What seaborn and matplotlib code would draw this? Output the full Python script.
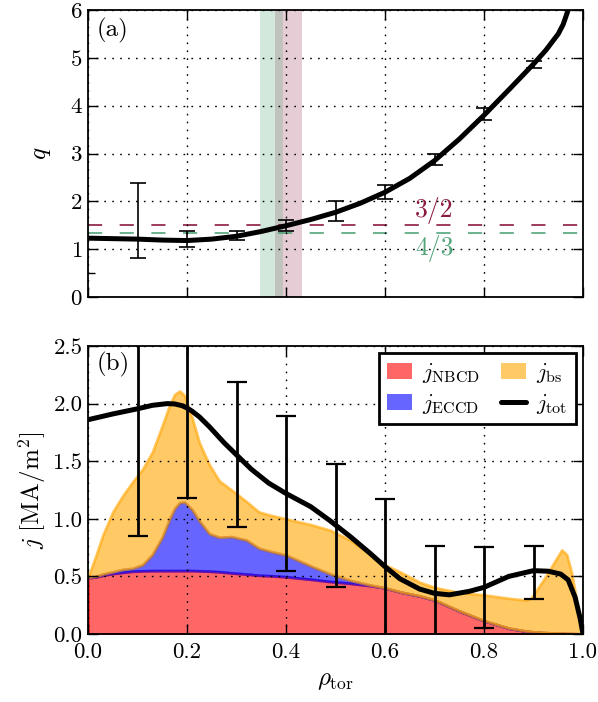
import numpy as np
import pandas as pd
import matplotlib
matplotlib.use("Agg")
import matplotlib.pyplot as plt
from matplotlib.patches import Patch
from matplotlib.lines import Line2D
import seaborn as sns

# ---------------- data: panel (a) safety factor ----------------
rho_q = [0.0, 0.05, 0.1, 0.15, 0.2, 0.25, 0.3, 0.35, 0.4, 0.45, 0.5, 0.55,
         0.6, 0.65, 0.7, 0.75, 0.8, 0.85, 0.9, 0.925, 0.95, 0.96, 0.97, 0.98]
q_prof = [1.23, 1.22, 1.21, 1.19, 1.18, 1.21, 1.27, 1.37, 1.49, 1.62, 1.77, 1.96,
          2.19, 2.48, 2.85, 3.30, 3.80, 4.33, 4.87, 5.16, 5.50, 5.70, 6.00, 6.45]
rho_err = [0.1, 0.2, 0.3, 0.4, 0.5, 0.6, 0.7, 0.8, 0.9]
q_lo = [0.81, 1.05, 1.19, 1.38, 1.59, 2.04, 2.76, 3.71, 4.79]
q_hi = [2.39, 1.37, 1.39, 1.62, 2.00, 2.35, 2.98, 3.95, 4.93]
q_rational = [1.5, 4 / 3]
q_rational_labels = ["3/2", "4/3"]
span_32 = [0.378, 0.433]
span_43 = [0.347, 0.394]

# ---------------- data: panel (b) current densities ----------------
rho_j = [0.0, 0.005, 0.015, 0.03, 0.05, 0.07, 0.09, 0.11, 0.13, 0.15, 0.165, 0.175,
         0.185, 0.195, 0.21, 0.225, 0.245, 0.265, 0.29, 0.32, 0.345, 0.37, 0.4,
         0.45, 0.49, 0.53, 0.57, 0.6, 0.63, 0.67, 0.7, 0.75, 0.8, 0.85, 0.885,
         0.895, 0.92, 0.957, 0.967, 0.977, 0.987, 0.994, 1.0]
j_nbcd = [0.49, 0.49, 0.495, 0.51, 0.525, 0.535, 0.545, 0.548, 0.55, 0.55, 0.55, 0.55,
          0.55, 0.55, 0.55, 0.548, 0.545, 0.54, 0.53, 0.52, 0.51, 0.505, 0.497,
          0.475, 0.455, 0.44, 0.42, 0.40, 0.365, 0.33, 0.295, 0.20, 0.115, 0.05, 0.025,
          0.02, 0.012, 0.006, 0.004, 0.003, 0.002, 0.001, 0.0]
j_eccd = [0.0, 0.005, 0.005, 0.01, 0.015, 0.025, 0.025, 0.052, 0.14, 0.29, 0.45, 0.54,
          0.59, 0.595, 0.53, 0.432, 0.325, 0.30, 0.315, 0.295, 0.235, 0.21, 0.188,
          0.115, 0.065, 0.025, 0.005, 0.0, 0.0, 0.0, 0.0, 0.0, 0.0, 0.0, 0.0,
          0.0, 0.0, 0.0, 0.0, 0.0, 0.0, 0.0, 0.0]
j_bs = [0.01, 0.055, 0.17, 0.34, 0.52, 0.64, 0.75, 0.83, 0.89, 0.97, 0.99, 0.99,
        0.97, 0.925, 0.80, 0.68, 0.60, 0.49, 0.405, 0.335, 0.315, 0.315, 0.315,
        0.36, 0.38, 0.35, 0.265, 0.20, 0.175, 0.12, 0.11, 0.16, 0.225, 0.26, 0.27,
        0.29, 0.458, 0.724, 0.686, 0.527, 0.293, 0.099, 0.0]
rho_tot = [0.0, 0.05, 0.1, 0.13, 0.16, 0.175, 0.19, 0.2, 0.21, 0.225, 0.245, 0.275,
           0.3, 0.33, 0.365, 0.4, 0.45, 0.49, 0.53, 0.57, 0.6, 0.63, 0.67, 0.7,
           0.73, 0.77, 0.8, 0.85, 0.9, 0.93, 0.955, 0.97, 0.984, 0.994, 1.0]
j_tot = [1.86, 1.91, 1.955, 1.985, 2.0, 1.997, 1.982, 1.962, 1.935, 1.885, 1.80, 1.66,
         1.555, 1.43, 1.31, 1.22, 1.105, 0.98, 0.845, 0.70, 0.585, 0.48, 0.39, 0.353,
         0.34, 0.37, 0.405, 0.50, 0.55, 0.545, 0.52, 0.47, 0.32, 0.14, 0.0]
j_lo = [0.85, 1.18, 0.93, 0.55, 0.405, -0.05, -0.06, 0.05, 0.30]
j_hi = [3.00, 2.75, 2.19, 1.89, 1.48, 1.17, 0.765, 0.755, 0.76]
legend_labels = [r"$j_{\mathrm{NBCD}}$", r"$j_{\mathrm{ECCD}}$",
                 r"$j_{\mathrm{bs}}$", r"$j_{\mathrm{tot}}$"]

# ---------------- style ----------------
sns.set_theme(style="ticks")
plt.rcParams.update({
    "font.family": ["cmr10"],
    "mathtext.fontset": "cm",
    "axes.formatter.use_mathtext": True,
    "font.size": 16.5,
    "axes.labelsize": 18,
    "xtick.labelsize": 16.5,
    "ytick.labelsize": 16.5,
    "legend.fontsize": 16.5,
    "xtick.direction": "in",
    "ytick.direction": "in",
    "xtick.top": True,
    "ytick.right": True,
    "xtick.major.size": 7,
    "ytick.major.size": 7,
    "xtick.major.width": 1.0,
    "ytick.major.width": 1.0,
    "xtick.major.pad": 6,
    "ytick.major.pad": 4,
    "xtick.color": "black",
    "ytick.color": "black",
    "axes.edgecolor": "black",
    "axes.linewidth": 1.3,
    "axes.axisbelow": False,
    "text.color": "black",
    "axes.labelcolor": "black",
})

c32 = "#8b1a40"
c43 = "#52a57a"
grid_ls = (0, (1.2, 4.5))

fig = plt.figure(figsize=(5.98, 7.02), dpi=100)
ax1 = fig.add_axes([88 / 598, 1 - 297 / 702, 495 / 598, 287 / 702])
ax2 = fig.add_axes([88 / 598, 1 - 634 / 702, 495 / 598, 288 / 702])

# ---------------- panel (a) ----------------
ax1.axvspan(span_32[0], span_32[1], color=c32, alpha=0.22, lw=0)
ax1.axvspan(span_43[0], span_43[1], color=c43, alpha=0.25, lw=0)
for qv, col in zip(q_rational, [c32, c43]):
    ax1.axhline(qv, color=col, lw=1.2, ls=(0, (8.5, 10.5)))
ax1.text(0.70, 1.80, q_rational_labels[0], color=c32, ha="center", va="center", fontsize=18.5)
ax1.text(0.70, 1.02, q_rational_labels[1], color=c43, ha="center", va="center", fontsize=18.5)

q_lo_a = np.array(q_lo); q_hi_a = np.array(q_hi)
q_mid = (q_lo_a + q_hi_a) / 2
ax1.errorbar(rho_err, q_mid, yerr=[q_mid - q_lo_a, q_hi_a - q_mid], fmt="none",
             ecolor="black", elinewidth=1.2, capsize=5.8, capthick=1.2, zorder=3)
dfq = pd.DataFrame({"rho": rho_q, "q": q_prof})
sns.lineplot(data=dfq, x="rho", y="q", ax=ax1, color="black", lw=3.6,
             sort=False, estimator=None, legend=False, zorder=4)

ax1.set_xlim(0, 1)
ax1.set_ylim(0, 6)
ax1.set_xticks([0, 0.2, 0.4, 0.6, 0.8, 1.0])
ax1.set_yticks([0, 1, 2, 3, 4, 5, 6])
ax1.set_yticks([0.5], minor=True)
ax1.tick_params(axis="y", which="minor", left=True, right=False, length=5, width=1.0)
ax1.tick_params(axis="x", labelbottom=False)
ax1.grid(True, color="black", ls=grid_ls, lw=1.0)
ax1.set_xlabel("")
ax1.set_ylabel(r"$q$", labelpad=12)
ax1.text(0.018, 0.972, "(a)", transform=ax1.transAxes, ha="left", va="top", fontsize=18)

# ---------------- panel (b) ----------------
nb = np.array(j_nbcd); ec = np.array(j_eccd); bs = np.array(j_bs)
ax2.fill_between(rho_j, 0, nb, color="red", alpha=0.6, lw=2.0)
ax2.fill_between(rho_j, nb, nb + ec, color="blue", alpha=0.6, lw=2.0)
ax2.fill_between(rho_j, nb + ec, nb + ec + bs, color="orange", alpha=0.6, lw=2.0)

j_lo_a = np.array(j_lo); j_hi_a = np.array(j_hi)
j_mid = (j_lo_a + j_hi_a) / 2
ax2.errorbar(rho_err, j_mid, yerr=[j_mid - j_lo_a, j_hi_a - j_mid], fmt="none",
             ecolor="black", elinewidth=2.0, capsize=7, capthick=1.6, zorder=3)
dfj = pd.DataFrame({"rho": rho_tot, "j": j_tot})
sns.lineplot(data=dfj, x="rho", y="j", ax=ax2, color="black", lw=3.6,
             sort=False, estimator=None, legend=False, zorder=4)

ax2.set_xlim(0, 1)
ax2.set_ylim(0, 2.5)
ax2.set_xticks([0, 0.2, 0.4, 0.6, 0.8, 1.0])
ax2.set_xticklabels(["0.0", "0.2", "0.4", "0.6", "0.8", "1.0"])
ax2.set_yticks([0, 0.5, 1.0, 1.5, 2.0, 2.5])
ax2.set_yticklabels(["0.0", "0.5", "1.0", "1.5", "2.0", "2.5"])
ax2.grid(True, color="black", ls=grid_ls, lw=1.0)
ax2.set_xlabel(r"$\rho_{\mathrm{tor}}$", labelpad=6)
ax2.set_ylabel(r"$j\ [\mathrm{MA/m^2}]$", labelpad=4)
ax2.text(0.018, 0.978, "(b)", transform=ax2.transAxes, ha="left", va="top", fontsize=18)

handles = [Patch(facecolor="red", alpha=0.6, lw=0),
           Patch(facecolor="blue", alpha=0.6, lw=0),
           Patch(facecolor="orange", alpha=0.6, lw=0),
           Line2D([], [], color="black", lw=3.6)]
leg = ax2.legend(handles, legend_labels, ncol=2, loc="upper right", frameon=True,
                 fancybox=False, framealpha=1, edgecolor="black", borderaxespad=0.32,
                 handlelength=1.1, handletextpad=0.45, columnspacing=0.9,
                 labelspacing=0.3, borderpad=0.35)
leg.get_frame().set_linewidth(2.0)
leg.set_zorder(10)

fig.savefig("out.png", dpi=100)
